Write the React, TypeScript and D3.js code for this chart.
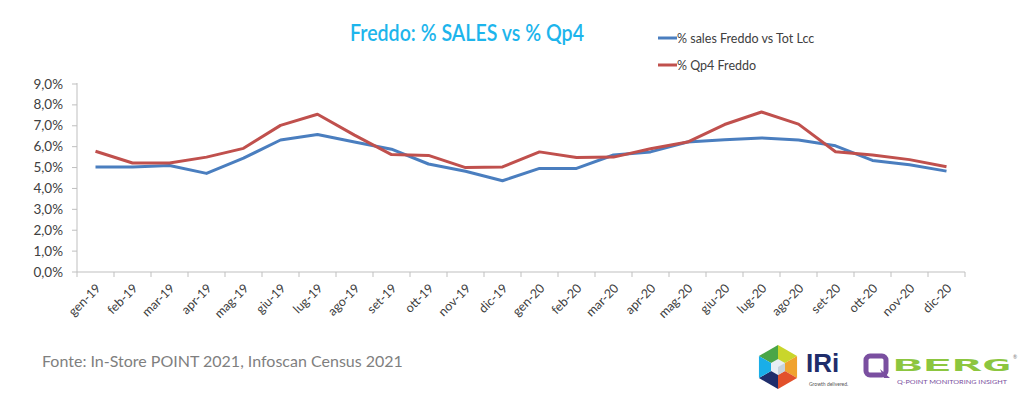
import React from 'react';
import * as d3 from 'd3';

// mesi
const months = [
  'gen-19', 'feb-19', 'mar-19', 'apr-19', 'mag-19', 'giu-19', 'lug-19', 'ago-19',
  'set-19', 'ott-19', 'nov-19', 'dic-19', 'gen-20', 'feb-20', 'mar-20', 'apr-20',
  'mag-20', 'giu-20', 'lug-20', 'ago-20', 'set-20', 'ott-20', 'nov-20', 'dic-20',
];

// % sales Freddo vs Tot Lcc
const salesShare = [
  5.03, 5.03, 5.1, 4.72, 5.45, 6.32, 6.58, 6.22, 5.88, 5.17, 4.82, 4.37,
  4.96, 4.96, 5.6, 5.75, 6.22, 6.33, 6.42, 6.32, 6.04, 5.34, 5.13, 4.83,
];

// % Qp4 Freddo
const qp4Share = [
  5.78, 5.22, 5.22, 5.5, 5.92, 7.02, 7.55, 6.55, 5.62, 5.58, 5.0, 5.03,
  5.75, 5.48, 5.5, 5.9, 6.22, 7.06, 7.66, 7.08, 5.76, 5.6, 5.38, 5.04,
];

const yTicks = [0, 1, 2, 3, 4, 5, 6, 7, 8, 9];

const seriesList = [
  { name: '% sales Freddo vs Tot Lcc', values: salesShare, color: '#4a7ebf' },
  { name: '% Qp4 Freddo', values: qp4Share, color: '#c0504d' },
];

const W = 1024;
const H = 393;
const left = 77;
const right = 965;
const top = 84;
const bottom = 272;

const fmt = (v: number) => v.toFixed(1).replace('.', ',') + '%';

const App = () => {
  const x = d3.scaleBand<string>().domain(months).range([left, right]);
  const y = d3.scaleLinear().domain([0, 9]).range([bottom, top]);
  const line = d3
    .line<number>()
    .x((_, i) => (x(months[i]) as number) + x.bandwidth() / 2)
    .y((d) => y(d));

  const tickXs = months.map((m) => x(m) as number).concat([right]);

  return (
    <svg
      width={W}
      height={H}
      style={{ position: 'absolute', left: 0, top: 0, background: '#fff' }}
      fontFamily="Lato, 'Open Sans', sans-serif"
    >
      {/* titolo */}
      <text
        x={350}
        y={41}
        fontSize={22}
        fontWeight={600}
        fill="#1db5ec"
        textLength={234}
        lengthAdjust="spacingAndGlyphs"
      >
        Freddo: % SALES vs % Qp4
      </text>

      {/* legenda */}
      {seriesList.map((s, i) => (
        <g key={s.name} transform={`translate(658, ${38 + i * 27})`}>
          <line x1={0} x2={19} y1={0} y2={0} stroke={s.color} strokeWidth={3} />
          <text x={19} y={4.5} fontSize={12.5} fill="#404040">
            {s.name}
          </text>
        </g>
      ))}

      {/* asse y */}
      <line x1={left} x2={left} y1={top - 1} y2={bottom} stroke="#bfbfbf" />
      {yTicks.map((t) => (
        <g key={t}>
          <line x1={left - 5} x2={left} y1={y(t)} y2={y(t)} stroke="#bfbfbf" />
          <text x={63} y={y(t) + 4.5} textAnchor="end" fontSize={13.5} fill="#404040">
            {fmt(t)}
          </text>
        </g>
      ))}

      {/* asse x */}
      <line x1={left} x2={right} y1={bottom} y2={bottom} stroke="#bfbfbf" />
      {tickXs.map((tx, i) => (
        <line key={i} x1={tx} x2={tx} y1={bottom} y2={bottom + 5} stroke="#bfbfbf" />
      ))}
      {months.map((m) => {
        const cx = (x(m) as number) + x.bandwidth() / 2 + 6;
        const cy = bottom + 17;
        return (
          <text
            key={m}
            x={cx}
            y={cy}
            textAnchor="end"
            fontSize={12.5}
            fill="#404040"
            transform={`rotate(-45, ${cx}, ${cy})`}
          >
            {m}
          </text>
        );
      })}

      {/* linee */}
      {seriesList.map((s) => (
        <path
          key={s.name}
          d={line(s.values) || ''}
          fill="none"
          stroke={s.color}
          strokeWidth={3}
          strokeLinejoin="round"
        />
      ))}

      {/* fonte */}
      <text x={42} y={367} fontSize={16} fill="#7f7f7f">
        Fonte: In-Store POINT 2021, Infoscan Census 2021
      </text>

      {/* logo IRi */}
      <g transform="translate(778, 367)">
        {[
          '#4aa647', '#c9d62b', '#f0a22e', '#e2502b', '#1f2d6b', '#19aee8',
        ].map((c, i) => {
          const a0 = ((-90 - 60 + i * 60) * Math.PI) / 180;
          const a1 = ((-90 + i * 60) * Math.PI) / 180;
          const r = 22;
          return (
            <path
              key={c}
              d={`M0,0 L${r * Math.cos(a0)},${r * Math.sin(a0)} L${r * Math.cos(a1)},${r * Math.sin(a1)} Z`}
              fill={c}
            />
          );
        })}
        <path d="M0,-8 L7,-4 L7,4 L0,8 L-7,4 L-7,-4 Z" fill="#e8eef4" />
        <path d="M0,0 L7,-4 L7,4 L0,8 Z" fill="#c7d3dd" />
      </g>
      <text x={806} y={372} fontSize={26} fontWeight={900} fill="#1f2d6b" fontFamily="'Liberation Sans', Arial">
        IRi
      </text>
      <text x={809} y={386} fontSize={5} fill="#555">
        Growth delivered.
      </text>

      {/* logo QBERG */}
      <g>
        <rect x={866} y={356} width={20} height={19} rx={4} fill="none" stroke="#7a4fa0" strokeWidth={5} />
        <path d="M880,369 L890,378 L884,378 Z" fill="#7a4fa0" />
        <text
          x={893}
          y={371}
          fontSize={16}
          fontWeight={700}
          fill="#8cc63f"
          fontFamily="'DejaVu Sans Mono', monospace"
          textLength={118}
          lengthAdjust="spacingAndGlyphs"
        >
          BERG
        </text>
        <text x={897} y={384} fontSize={5} fill="#7a4fa0" textLength={110} lengthAdjust="spacingAndGlyphs">
          Q-POINT MONITORING INSIGHT
        </text>
        <text x={1013} y={359} fontSize={5} fill="#777">
          ®
        </text>
      </g>
    </svg>
  );
};

export default App;
